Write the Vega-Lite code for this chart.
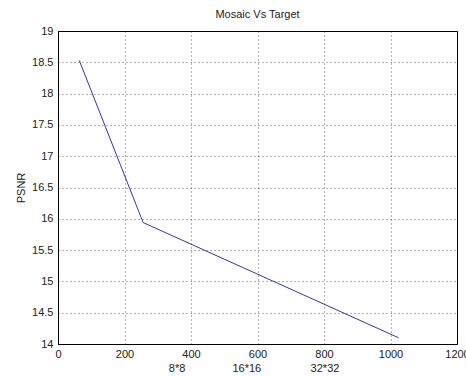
{
  "$schema": "https://vega.github.io/schema/vega-lite/v6.json",
  "width": 399,
  "height": 313,
  "autosize": {"type": "none"},
  "padding": {"left": 58, "top": 31, "right": 9, "bottom": 32},
  "background": "#ffffff",
  "config": {
    "view": {"stroke": "#000000", "strokeWidth": 1},
    "font": "Liberation Sans",
    "axis": {
      "domainColor": "#000000",
      "gridColor": "#000000",
      "gridDash": [1, 3],
      "gridOpacity": 0.6,
      "ticks": false,
      "labelColor": "#222222",
      "labelFont": "Liberation Sans",
      "labelFontSize": 11,
      "labelOverlap": false,
      "titleFont": "Liberation Sans",
      "titleFontWeight": "normal",
      "titleFontSize": 11,
      "titleColor": "#222222"
    }
  },
  "title": {
    "text": "Mosaic Vs Target",
    "font": "Liberation Sans",
    "fontSize": 11,
    "fontWeight": "normal",
    "color": "#222222",
    "anchor": "middle",
    "offset": 5
  },
  "encoding": {
    "x": {"field": "n", "type": "quantitative",
          "scale": {"domain": [0, 1200], "nice": false},
          "axis": {"values": [0, 200, 400, 600, 800, 1000, 1200], "format": "d", "title": null, "labelPadding": 4, "labelFlush": false}},
    "y": {"field": "psnr", "type": "quantitative",
          "scale": {"domain": [14, 19], "nice": false, "zero": false},
          "axis": {"values": [14, 14.5, 15, 15.5, 16, 16.5, 17, 17.5, 18, 18.5, 19], "format": ".1~f", "title": "PSNR", "labelPadding": 5, "titlePadding": 5, "labelFlush": false}}
  },
  "layer": [
    {
      "data": {"values": [
        {"n": 64, "psnr": 18.53},
        {"n": 256, "psnr": 15.94},
        {"n": 1024, "psnr": 14.1}
      ]},
      "mark": {"type": "line", "color": "#3535a8", "strokeWidth": 1}
    },
    {
      "data": {"values": [
        {"label": "8*8", "n": 358, "psnr": 13.6},
        {"label": "16*16", "n": 568, "psnr": 13.6},
        {"label": "32*32", "n": 803, "psnr": 13.6}
      ]},
      "mark": {"type": "text", "clip": false, "font": "Liberation Sans", "fontSize": 11, "color": "#222222", "baseline": "middle", "align": "center"},
      "encoding": {
        "text": {"field": "label"}
      }
    }
  ]
}
